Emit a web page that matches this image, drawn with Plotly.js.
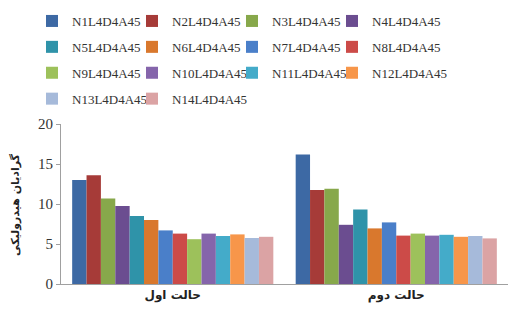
<!DOCTYPE html>
<html><head><meta charset="utf-8">
<script src="https://cdn.plot.ly/plotly-3.0.1.min.js"></script>
<style>html,body{margin:0;padding:0;background:#fff;}#chart{width:508px;height:312px;}</style>
</head><body><div id="chart"></div>
<script>
const categories = ["حالت اول", "حالت دوم"];
const seriesNames = ["N1L4D4A45","N2L4D4A45","N3L4D4A45","N4L4D4A45","N5L4D4A45","N6L4D4A45","N7L4D4A45","N8L4D4A45","N9L4D4A45","N10L4D4A45","N11L4D4A45","N12L4D4A45","N13L4D4A45","N14L4D4A45"];
const case1Values = [13.0, 13.6, 10.7, 9.75, 8.5, 8.0, 6.7, 6.3, 5.6, 6.3, 6.0, 6.2, 5.75, 5.9];
const case2Values = [16.2, 11.75, 11.9, 7.4, 9.3, 6.95, 7.7, 6.05, 6.3, 6.05, 6.15, 5.9, 6.0, 5.7];
const colors = ["#3D69A4","#A63B38","#87A84B","#6B4D90","#2F93A9","#D9782D","#4A7FC9","#CC4B48","#9DC15B","#8565AB","#44ABC9","#F7964A","#A6BADA","#DBA3A4"];
const yTicks = [0, 5, 10, 15, 20];
const yTitle = "گرادیان هیدرولیکی";

const serif = 'Times New Roman';
const legendFont = {family: serif, size: 13, color: '#333'};
const legendIds = ['legend', 'legend2', 'legend3', 'legend4'];
const traces = seriesNames.map((name, i) => ({
  type: 'bar',
  name: name,
  x: categories,
  y: [case1Values[i], case2Values[i]],
  legend: legendIds[i % 4],
  legendgroup: name,
  marker: {color: colors[i], line: {width: 0}}
}));

function legendAt(px) {
  return {
    orientation: 'v', x: px / 508, xref: 'container', xanchor: 'left',
    y: 1 - 6 / 312, yref: 'container', yanchor: 'top',
    font: legendFont, tracegroupgap: 6, bgcolor: 'rgba(0,0,0,0)', traceorder: 'grouped'
  };
}

const layout = {
  width: 508, height: 312,
  margin: {l: 61, r: 0, t: 124, b: 28, autoexpand: false},
  paper_bgcolor: '#fff', plot_bgcolor: '#fff',
  barmode: 'group', bargap: 0.1, bargroupgap: 0,
  showlegend: true,
  legend: legendAt(32), legend2: legendAt(132), legend3: legendAt(232), legend4: legendAt(332),
  xaxis: {
    showline: true, linecolor: '#a0a0a0', linewidth: 1, ticks: '',
    tickfont: {family: 'DejaVu Sans', size: 12, color: '#222', weight: 'bold'},
    showgrid: false, zeroline: false
  },
  yaxis: {
    range: [0, 20], tickvals: yTicks, showline: true, linecolor: '#a0a0a0', linewidth: 1,
    ticks: 'outside', ticklen: 4, tickcolor: '#a0a0a0',
    showgrid: false, zeroline: false,
    tickfont: {family: serif, size: 15, color: '#333'}
  },
  annotations: [{
    text: '<b>' + yTitle + '</b>', xref: 'paper', yref: 'paper',
    x: -0.103, y: 0.5, xanchor: 'center', yanchor: 'middle', textangle: -90,
    showarrow: false, font: {family: 'DejaVu Sans', size: 11, color: '#222'}
  }]
};
Plotly.newPlot('chart', traces, layout, {displayModeBar: false, staticPlot: true});
</script></body></html>
